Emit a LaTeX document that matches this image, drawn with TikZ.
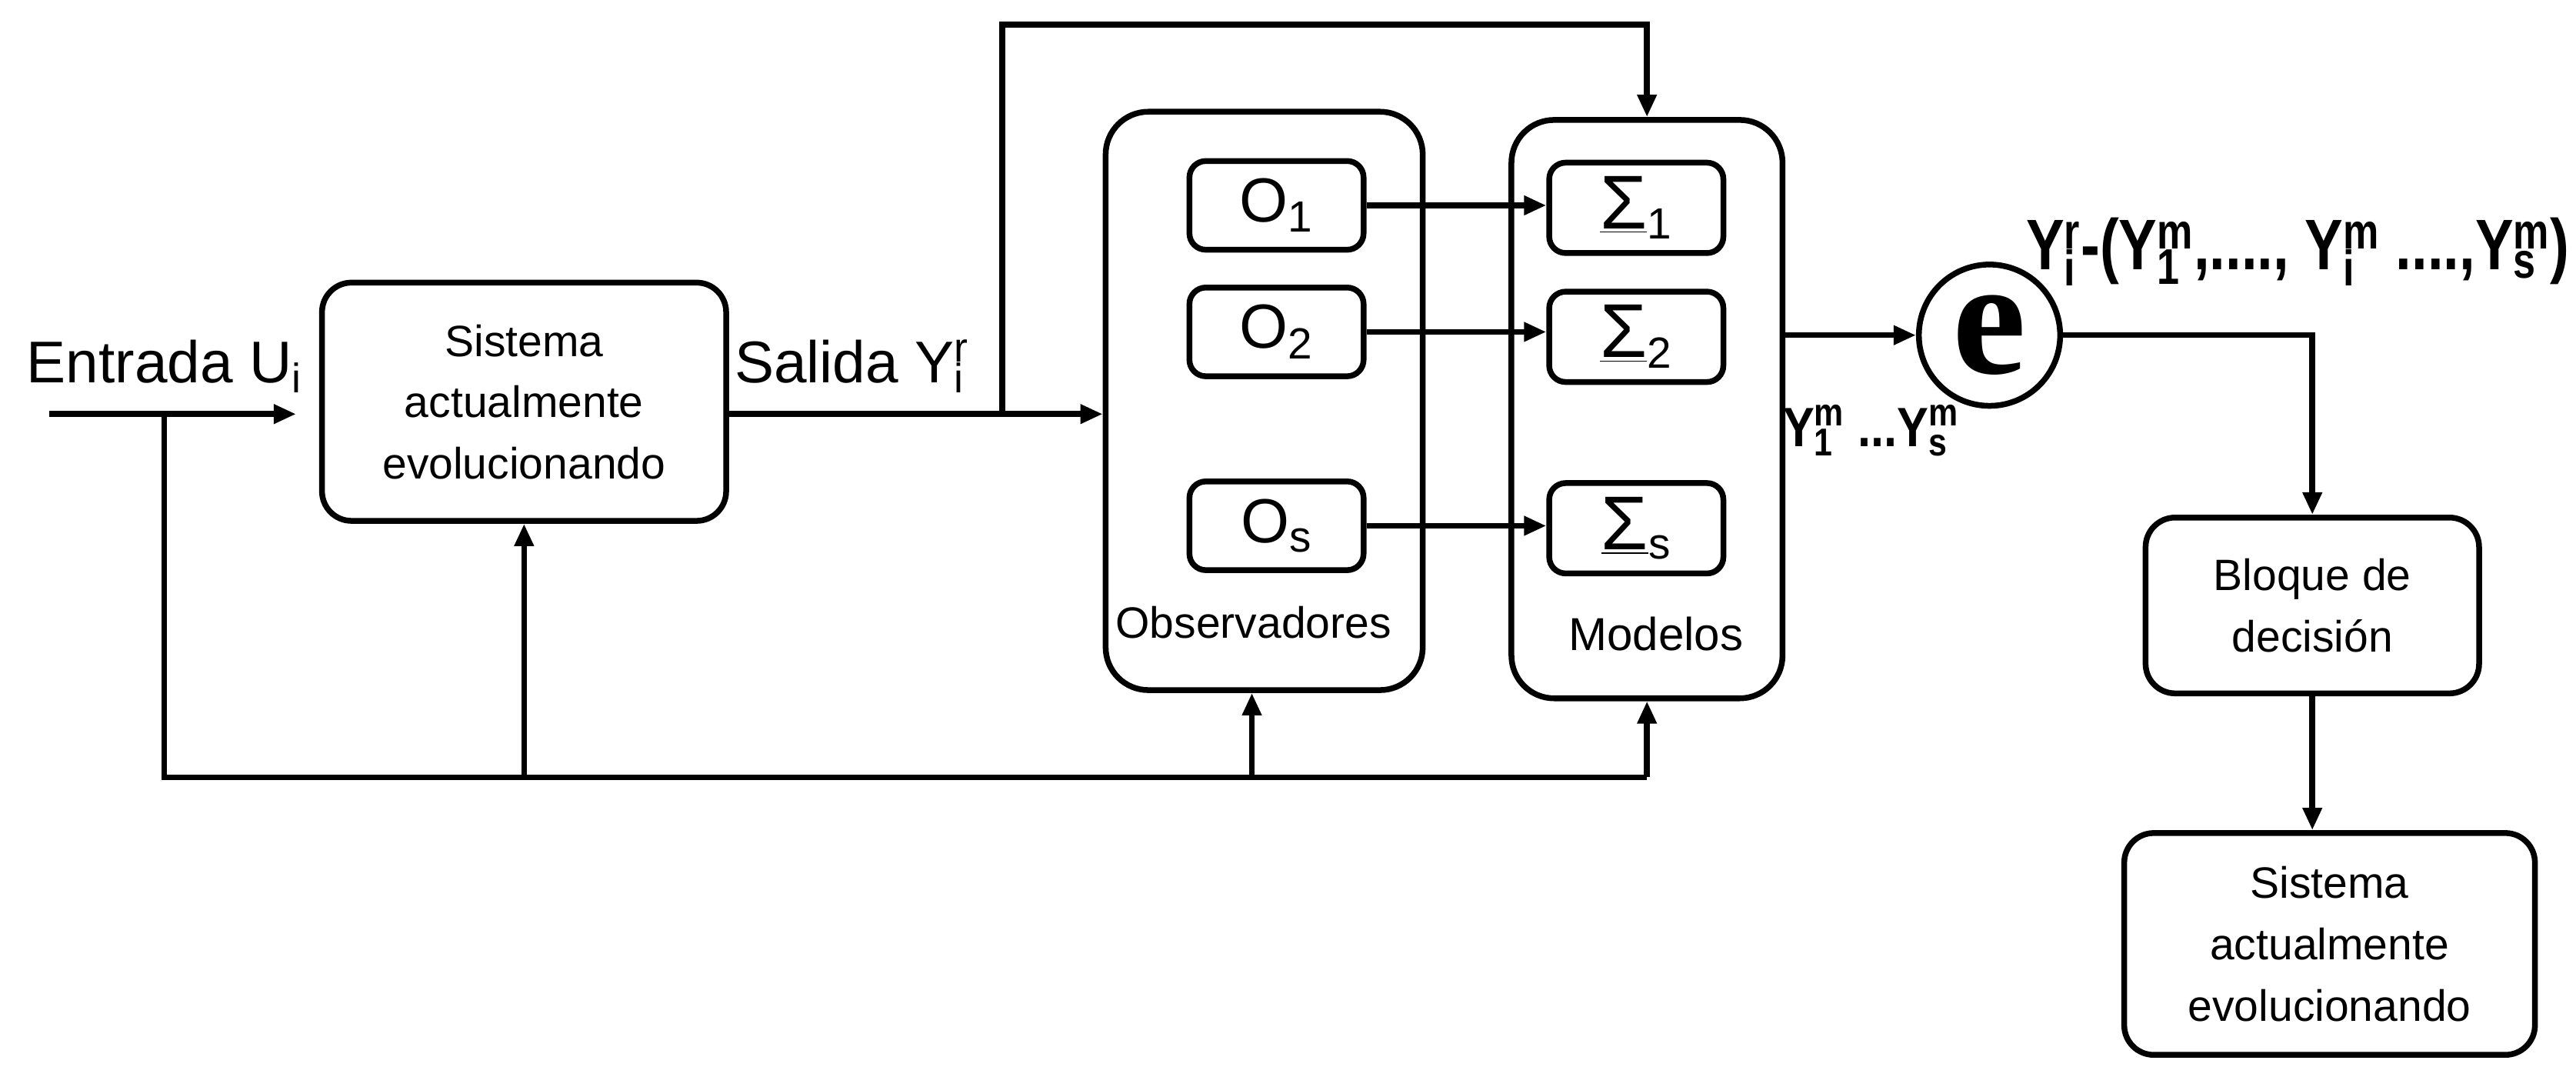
\documentclass[tikz,border=0pt]{standalone}
\usepackage{fontspec}
\usepackage{graphicx}
\setmainfont{Liberation Sans}
\newfontfamily\eserif{Liberation Serif}
\usetikzlibrary{arrows.meta,calc}
\newcommand\supsub[2]{\begingroup\sbox0{\textsuperscript{#1}}\sbox2{\textsubscript{#2}}%
  \ifdim\wd0>\wd2\relax\rlap{\usebox2}\usebox0\else\rlap{\usebox0}\usebox2\fi\endgroup}
\newcommand\boxfont{\fontsize{19}{26.5}\selectfont}
\newcommand\lblfont{\fontsize{25.5}{30}\selectfont}
\newcommand\ofont{\fontsize{27}{30}\selectfont}
\newcommand\sig[1]{{\fontsize{33}{33}\selectfont\underline{Σ}}\textsubscript{#1}}
\tikzset{
  box/.style={draw, line width=2.5pt, rounded corners=4.5mm, align=center, inner sep=0pt, font=\boxfont},
  bigbox/.style={draw, line width=2.5pt, rounded corners=6.5mm, inner sep=0pt},
  smallbox/.style={draw, line width=2.5pt, rounded corners=2.5mm, inner sep=0pt, font=\ofont},
  conn/.style={line width=2.5pt},
  arr/.style={line width=2.5pt, -{Triangle[length=3.4mm,width=2.8mm]}},
  lbl/.style={inner sep=0pt, font=\lblfont},
}
\begin{document}
\begin{tikzpicture}[x=0.25mm, y=-0.25mm]
\useasboundingbox (0,0) rectangle (1568,649);

% main blocks
\node[box, minimum width=61.5mm, minimum height=36.25mm] (sys1) at (319,244.5)
  {Sistema\\actualmente\\evolucionando};
\node[bigbox, minimum width=48.25mm, minimum height=88mm] (obs) at (769.5,244) {};
\node[bigbox, minimum width=41.25mm, minimum height=88mm] (mod) at (1002.5,249) {};
\node[inner sep=0pt, font=\boxfont] (obslbl) at (763,379) {Observadores};
\node[inner sep=0pt, font=\fontsize{20}{24}\selectfont] (modlbl) at (1008,386) {Modelos};

% observers
\node[smallbox, minimum width=26.5mm, minimum height=13.5mm] (O1) at (777,125) {O\textsubscript{1}};
\node[smallbox, minimum width=26.5mm, minimum height=13.5mm] (O2) at (777,202) {O\textsubscript{2}};
\node[smallbox, minimum width=26.5mm, minimum height=13.5mm] (Os) at (777,320) {O\textsubscript{s}};
% models
\node[smallbox, minimum width=26.5mm, minimum height=13.75mm] (S1) at (996,126.5) {\sig{1}};
\node[smallbox, minimum width=26.5mm, minimum height=13.75mm] (S2) at (996,205) {\sig{2}};
\node[smallbox, minimum width=26.5mm, minimum height=13.75mm] (Ss) at (996,321.5) {\sig{s}};

% error circle
\node[circle, draw, line width=2.5pt, minimum size=21.5mm, inner sep=0pt,
      font=\eserif\bfseries\fontsize{72}{72}\selectfont] (e) at (1211,204) {e};

% decision and second system
\node[box, minimum width=50.75mm, minimum height=26.75mm] (bloque) at (1407.5,368.5)
  {Bloque de\\decisión};
\node[box, minimum width=62.5mm, minimum height=33.75mm] (sys2) at (1418,574.5)
  {Sistema\\actualmente\\evolucionando};

% labels
\node[lbl, anchor=base west] (entrada) at (16,233) {Entrada U\textsubscript{i}};
\node[lbl, anchor=base west] (salida) at (447,233) {Salida Y\supsub{r}{i}};
\node[inner sep=0pt, anchor=base west, font=\bfseries\fontsize{31}{34}\selectfont] (errlbl) at (1233,164)
  {\scalebox{0.8}[1]{Y\supsub{r}{i}-(Y\supsub{m}{1},...., Y\supsub{m}{i} ....,Y\supsub{m}{s})}};
\node[inner sep=0pt, anchor=base west, font=\bfseries\fontsize{24}{28}\selectfont] (ymlbl) at (1085,272)
  {\scalebox{0.85}[1]{Y\supsub{m}{1} ...Y\supsub{m}{s}}};

% junction coordinates
\coordinate (inL) at (30,252);
\coordinate (J1) at (100,252);
\coordinate (J2) at (610,252);
\coordinate (T1) at (610,15);
\coordinate (B0) at (100,473);
\coordinate (Bobs) at (762,473);

% connectors
\draw[arr, shorten >=3.5mm] (inL) -- (sys1.west |- inL);
\draw[conn] (J1) -- (B0) -- (B0 -| mod.south);
\draw[arr] (B0 -| sys1.south) -- (sys1.south);
\draw[arr] (Bobs) -- (Bobs |- obs.south);
\draw[arr] (B0 -| mod.south) -- (mod.south);
\draw[arr] (sys1.east |- J2) -- (obs.west |- J2);
\draw[arr] (J2) -- (T1) -- (T1 -| mod.north) -- (mod.north);
\draw[arr] (O1.east) -- (O1.east -| S1.west);
\draw[arr] (O2.east) -- (O2.east -| S2.west);
\draw[arr] (Os.east) -- (Os.east -| Ss.west);
\draw[arr] (mod.east |- e) -- (e.west);
\draw[arr] (e.east) -- (e.east -| bloque.north) -- (bloque.north);
\draw[arr] (bloque.south) -- (bloque.south |- sys2.north);
\end{tikzpicture}
\end{document}
